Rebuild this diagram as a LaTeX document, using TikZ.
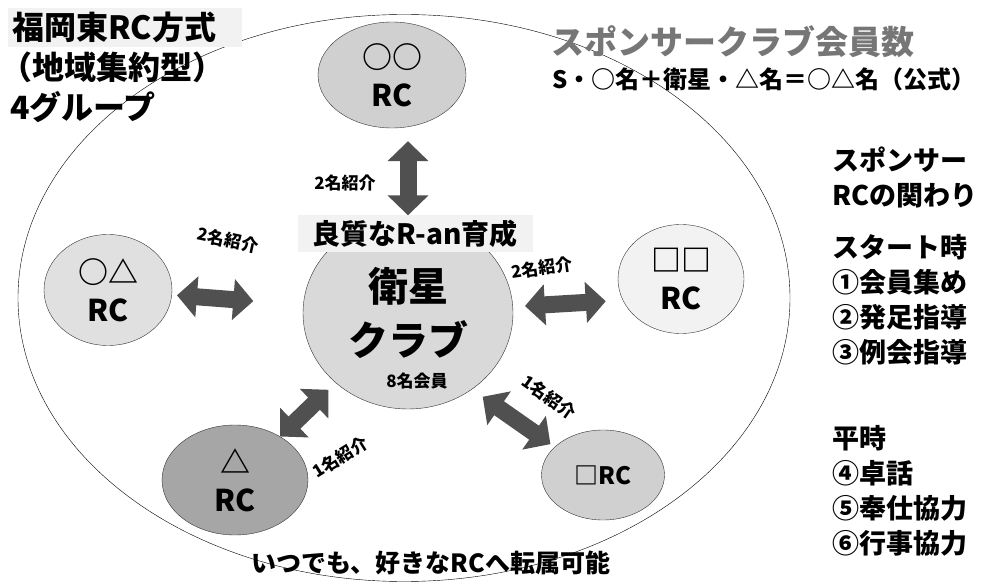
\documentclass[tikz,border=0pt]{standalone}
\usepackage{fontspec}
\setmainfont{Noto Sans CJK JP}
\usetikzlibrary{arrows.meta,shapes.geometric}

\definecolor{satgray}{HTML}{D9D9D9}
\definecolor{oogray}{HTML}{D0D0D0}
\definecolor{oagray}{HTML}{E0E0E0}
\definecolor{ddgray}{HTML}{F2F2F2}
\definecolor{trigray}{HTML}{A6A6A6}
\definecolor{boxgray}{HTML}{F2F2F2}
\definecolor{arrowgray}{HTML}{505050}
\definecolor{countgray}{HTML}{767676}

\tikzset{
  club/.style={ellipse, draw=black!80, inner sep=0pt, align=center,
    font=\bfseries\fontsize{30}{38}\selectfont},
  link/.style={draw=arrowgray, line width=17pt,
    arrows={Triangle[length=20pt,width=40pt]-Triangle[length=20pt,width=40pt]}},
  intro/.style={inner sep=0pt, font=\bfseries\fontsize{17}{20}\selectfont},
  panel/.style={anchor=north west, inner sep=0pt, align=left,
    font=\bfseries\fontsize{27}{35}\selectfont},
}

\begin{document}
\begin{tikzpicture}[x=1pt,y=-1pt]
\useasboundingbox (0,0) rectangle (993,585);

    % group (outer ellipse)
    \node[ellipse, draw, inner sep=0pt, minimum width=772pt, minimum height=567pt] (group) at (404,298) {};

    % clubs
    \node[club, fill=satgray, minimum width=210pt, minimum height=192pt,
      font=\bfseries\fontsize{40}{54}\selectfont] (sat) at (408,313) {衛星\\クラブ};
    \node[club, fill=oogray, minimum width=148pt, minimum height=106pt] (oo) at (392,75) {○○\\RC};
    \node[club, fill=oagray, minimum width=128pt, minimum height=111pt] (oa) at (108,290) {○△\\RC};
    \node[club, fill=ddgray, minimum width=126pt, minimum height=109pt] (dd) at (681,279) {□□\\RC};
    \node[club, fill=trigray, minimum width=146pt, minimum height=110pt] (tri) at (235,480) {△\\RC};
    \node[club, fill=oogray, minimum width=123pt, minimum height=90pt,
      font=\bfseries\fontsize{24}{30}\selectfont] (sq) at (603,475) {□RC};

    % labels on the satellite club
    \node[fill=boxgray, inner sep=0pt, minimum width=235pt, minimum height=37pt,
      font=\bfseries\fontsize{28}{30}\selectfont] (qual) at (415,234) {良質なR-an育成};
    \node[intro] (members) at (417,381) {8名会員};

    % links
    \draw[link, shorten <=13pt] (sat.north |- oo.south) -- (sat.north |- qual.north); % oo <-> sat
    \draw[link, shorten <=5pt, shorten >=50pt] (oa) -- (sat); % oa <-> sat
    \draw[link, shorten <=12pt, shorten >=17pt] (sat) -- (dd.200); % sat <-> dd
    \draw[link, shorten >=10pt] (tri) -- (sat); % tri <-> sat
    \draw[link, shorten <=13pt, shorten >=5pt] (sat.-50) -- (sq.150); % sat <-> sq

    % introductions
    \node[intro] (in-oo) at (345,183) {2名紹介};
    \node[intro, rotate=-12] (in-oa) at (228,240) {2名紹介};
    \node[intro, rotate=8] (in-dd) at (542,268) {2名紹介};
    \node[intro, rotate=32] (in-tri) at (340,457) {1名紹介};
    \node[intro, rotate=-35] (in-sq) at (549,397) {1名紹介};

    % title
    \node[anchor=north west, fill=boxgray, inner sep=4pt, text width=226pt, align=left,
      font=\bfseries\fontsize{32}{40}\selectfont] (title) at (8,8) {福岡東RC方式};
    \node[anchor=north west, inner sep=0pt, align=left,
      font=\bfseries\fontsize{32}{40}\selectfont] (subtitle) at (0,52) {（地域集約型）\\\hspace*{10pt}4グループ};

    % sponsor club members
    \node[anchor=west, inner sep=0pt, text=countgray,
      font=\bfseries\fontsize{33}{36}\selectfont] (count) at (551,42) {スポンサークラブ会員数};
    \node[anchor=west, inner sep=0pt,
      font=\bfseries\fontsize{24}{28}\selectfont] (formula) at (552,79) {S・○名＋衛星・△名＝○△名（公式）};

    % role of the sponsor club
    \node[panel] (role) at (832,147) {スポンサー\\RCの関わり};
    \node[panel] (start) at (832,234) {スタート時\\①会員集め\\②発足指導\\③例会指導};
    \node[panel] (usual) at (832,425) {平時\\④卓話\\⑤奉仕協力\\⑥行事協力};

    % transfer
    \node[inner sep=0pt, font=\bfseries\fontsize{25}{28}\selectfont] (move) at (431,563) {いつでも、好きなRCへ転属可能};

\end{tikzpicture}
\end{document}
